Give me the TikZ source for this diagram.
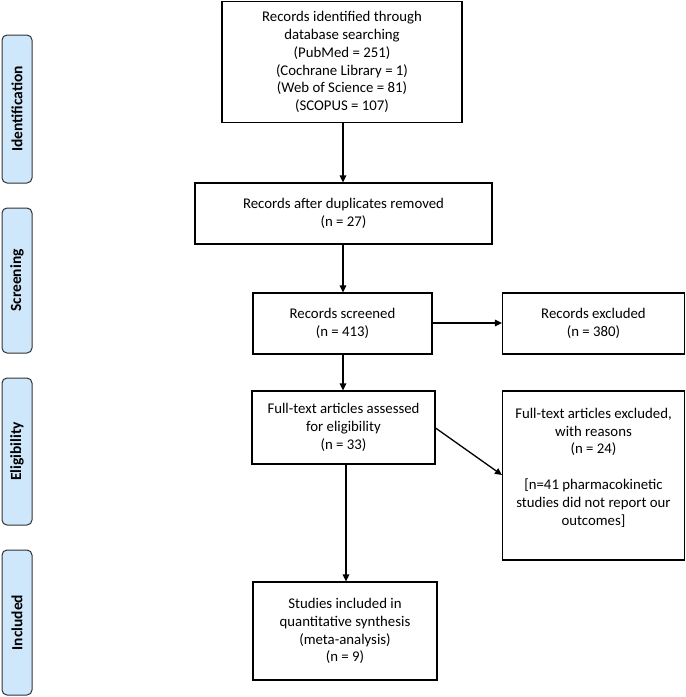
\documentclass[tikz,border=0pt]{standalone}
\usepackage{fontspec}
\setmainfont{Carlito}
\usetikzlibrary{arrows.meta}
\definecolor{sidefill}{RGB}{207,231,251}
\definecolor{sideline}{RGB}{50,50,50}
\begin{document}
\begin{tikzpicture}[x=1pt,y=-1pt,
  box/.style={draw=black,line width=1.1pt,align=center,inner sep=2pt,
    font=\fontsize{14.8}{17.8}\selectfont},
  side/.style={draw=sideline,fill=sidefill,rounded corners=5pt,line width=1pt,
    minimum width=30pt},
  sidetext/.style={font=\fontsize{15.5}{17}\selectfont\bfseries,rotate=90},
  arr/.style={line width=1.3pt,-{Triangle[length=7pt,width=6.5pt]}}]
\useasboundingbox (0,0) rectangle (686,697);
% side bars
\node[side,minimum height=148pt] (s1) at (17,109) {};
\node[sidetext] (t1) at (s1.center) {Identification};
\node[side,minimum height=145pt] (s2) at (17,280.5) {};
\node[sidetext] (t2) at (s2.center) {Screening};
\node[side,minimum height=147pt] (s3) at (17,451.5) {};
\node[sidetext] (t3) at (s3.center) {Eligibility};
\node[side,minimum height=145pt] (s4) at (17,622.5) {};
\node[sidetext] (t4) at (s4.center) {Included};
% boxes
\node[box,minimum width=240pt,minimum height=121pt] (b1) at (342,62)
  {Records identified through\\database searching\\(PubMed = 251)\\(Cochrane Library = 1)\\(Web of Science = 81)\\(SCOPUS = 107)};
\node[box,minimum width=297pt,minimum height=61pt] (b2) at (343.5,213.5)
  {Records after duplicates removed\\(n = 27)};
\node[box,minimum width=179pt,minimum height=61pt] (b3) at (342.5,323.5)
  {Records screened\\(n = 413)};
\node[box,minimum width=182pt,minimum height=61pt] (b4) at (593.5,323.5)
  {Records excluded\\(n = 380)};
\node[box,minimum width=183pt,minimum height=73pt] (b5) at (343.5,427.5)
  {Full-text articles assessed\\for eligibility\\(n = 33)};
\node[box,minimum width=182pt,minimum height=169pt] (b6) at (593.5,475.5)
  {Full-text articles excluded,\\with reasons\\(n = 24)\\~\\{}[n=41 pharmacokinetic\\studies did not report our\\outcomes]\\~};
\node[box,minimum width=184pt,minimum height=98pt] (b7) at (345,631)
  {Studies included in\\quantitative synthesis\\(meta-analysis)\\(n = 9)};
% connectors
\draw[arr] (b1.south -| 343,0) -- (b2.north -| 343,0);
\draw[arr] (b2.south -| 343,0) -- (b3.north -| 343,0);
\draw[arr] (b3.east |- 0,323) -- (b4.west |- 0,323);
\draw[arr] (b3.south -| 343,0) -- (b5.north -| 343,0);
\draw[arr] (b5.south -| 346,0) -- (b7.north -| 346,0);
\draw[arr] (b5.east |- 0,428) -- (b6.west |- 0,475);
\end{tikzpicture}
\end{document}
